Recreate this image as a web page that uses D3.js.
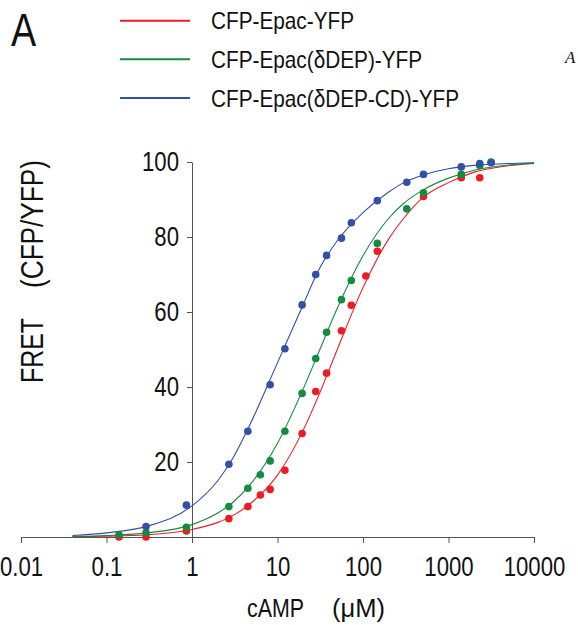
<!DOCTYPE html>
<html>
<head>
<meta charset="utf-8">
<script src="https://cdn.jsdelivr.net/npm/d3@7"></script>
<style>
  body { margin: 0; background: #fff; }
  svg { display: block; }
</style>
</head>
<body>
<svg id="chart" width="578" height="625"></svg>
<script>
// ---- data ----
const legendNames = ["CFP-Epac-YFP", "CFP-Epac(\u03B4DEP)-YFP", "CFP-Epac(\u03B4DEP-CD)-YFP"];
const colors = ["#ed1c24", "#138c40", "#3150a6"];

const xTicks = [0.01, 0.1, 1, 10, 100, 1000, 10000];
const xTickLabels = ["0.01", "0.1", "1", "10", "100", "1000", "10000"];
const yTicks = [20, 40, 60, 80, 100];

// measured points (cAMP uM, FRET)
const concRed = [0.14, 0.29, 0.86, 2.7, 4.5, 6.3, 8.2, 12.2, 19.4, 28, 37.5, 56, 73, 108, 147, 510, 1410, 2320];
const fretRed = [0, 0, 1.6, 4.9, 8.1, 11.2, 12.7, 17.8, 27.6, 38.8, 43.7, 55.0, 61.8, 69.6, 76.2, 90.8, 95.8, 95.8];

const concGreen = [0.14, 0.29, 0.86, 2.7, 4.5, 6.3, 8.2, 12.2, 19.4, 28, 37.5, 56, 73, 147, 325, 510, 1410, 2320, 3150];
const fretGreen = [0.6, 1.2, 2.6, 8.1, 13.0, 16.6, 20.3, 28.2, 38.3, 47.6, 54.6, 63.3, 68.4, 78.3, 87.5, 91.8, 96.7, 99.1, 100];

const concBlue = [0.29, 0.86, 2.7, 4.5, 8.2, 12.2, 19.4, 28, 37.5, 56, 73, 147, 325, 510, 1410, 2320, 3150];
const fretBlue = [2.8, 8.5, 19.4, 28.2, 40.6, 50.2, 61.9, 70, 75.1, 79.7, 83.8, 89.7, 94.6, 96.7, 98.7, 99.6, 99.8];

// fitted curves
const fitConc = [0.04, 0.1, 0.3, 1, 2, 3, 5, 10, 20, 30, 50, 100, 200, 300, 500, 1000, 2000, 5000, 10000];
const fitRed = [0.1, 0.2, 0.6, 2, 3.9, 5.7, 9.2, 16.5, 28.5, 37.5, 50, 66.5, 79.5, 85, 90.5, 94.5, 97.3, 99, 99.6];
const fitGreen = [0.15, 0.4, 1.1, 3.3, 6.4, 9.2, 14.5, 25, 39.5, 49, 61, 75, 85, 89, 92.5, 95.7, 97.8, 99.2, 99.7];
const fitBlue = [0.4, 1.1, 2.9, 8.3, 15, 21, 31, 46.5, 62, 71, 79, 86.5, 92, 94.5, 96.5, 98.2, 99.1, 99.6, 99.8];

const font = "'Liberation Sans', Arial, sans-serif";

// squeeze Arial-like glyphs to an Arial Narrow look
function narrow(sel, k = 0.82) {
  sel.each(function () {
    const w = this.getComputedTextLength();
    d3.select(this)
      .attr("textLength", w * k)
      .attr("lengthAdjust", "spacingAndGlyphs");
  });
}

const svg = d3.select("#chart");

const xScale = d3.scaleLog().domain([0.01, 10000]).range([21, 534]);
const yScale = d3.scaleLinear().domain([0, 100]).range([537, 162]);

const series = [
  { conc: concRed, fret: fretRed, fit: fitRed, color: colors[0] },
  { conc: concGreen, fret: fretGreen, fit: fitGreen, color: colors[1] },
  { conc: concBlue, fret: fretBlue, fit: fitBlue, color: colors[2] }
];

// axes
const xAxis = d3.axisBottom(xScale)
  .tickValues(xTicks)
  .tickFormat((d, i) => xTickLabels[i])
  .tickSize(6)
  .tickSizeOuter(0)
  .tickPadding(14);

const xAxisG = svg.append("g")
  .attr("transform", `translate(0,${yScale(0)})`)
  .call(xAxis);
xAxisG.selectAll("path, line").attr("stroke", "#555");
xAxisG.selectAll("text")
  .attr("font-family", font)
  .attr("font-size", 27)
  .attr("fill", "#111")
  .call(narrow);

const yAxis = d3.axisLeft(yScale)
  .tickValues(yTicks)
  .tickSize(5)
  .tickSizeOuter(0)
  .tickPadding(8);

const yAxisG = svg.append("g")
  .attr("transform", `translate(${xScale(1)},0)`)
  .call(yAxis);
yAxisG.selectAll("path, line").attr("stroke", "#555");
yAxisG.selectAll("text")
  .attr("font-family", font)
  .attr("font-size", 27)
  .attr("fill", "#111")
  .call(narrow);

// axis titles (widths as measured on the figure)
const xTitle = svg.append("text")
  .attr("y", 617)
  .attr("font-family", font)
  .attr("font-size", 26)
  .attr("fill", "#111")
  .attr("lengthAdjust", "spacingAndGlyphs");
xTitle.append("text");
svg.append("text")
  .attr("x", 247).attr("y", 617)
  .attr("font-family", font).attr("font-size", 26).attr("fill", "#111")
  .attr("textLength", 57).attr("lengthAdjust", "spacingAndGlyphs")
  .text("cAMP");
svg.append("text")
  .attr("x", 332).attr("y", 617)
  .attr("font-family", font).attr("font-size", 26).attr("fill", "#111")
  .attr("textLength", 53).attr("lengthAdjust", "spacingAndGlyphs")
  .text("(\u03BCM)");

const yTitleG = svg.append("g").attr("transform", "translate(43,383) rotate(-90)");
yTitleG.append("text")
  .attr("x", 0)
  .attr("font-family", font).attr("font-size", 31).attr("fill", "#111")
  .attr("textLength", 65).attr("lengthAdjust", "spacingAndGlyphs")
  .text("FRET");
yTitleG.append("text")
  .attr("x", 95)
  .attr("font-family", font).attr("font-size", 31).attr("fill", "#111")
  .attr("textLength", 128).attr("lengthAdjust", "spacingAndGlyphs")
  .text("(CFP/YFP)");

// fit curves
const lineGenerator = d3.line()
  .x((d) => xScale(d[0]))
  .y((d) => yScale(d[1]))
  .curve(d3.curveMonotoneX);

series.forEach((s) => {
  svg.append("path")
    .attr("d", lineGenerator(fitConc.map((c, i) => [c, s.fit[i]])))
    .attr("fill", "none")
    .attr("stroke", s.color)
    .attr("stroke-width", 1.1);
});

// data points
series.forEach((s) => {
  svg.append("g")
    .selectAll("circle")
    .data(s.conc.map((c, i) => [c, s.fret[i]]))
    .enter()
    .append("circle")
    .attr("cx", (d) => xScale(d[0]))
    .attr("cy", (d) => yScale(d[1]))
    .attr("r", 3.8)
    .attr("fill", s.color);
});

// legend
const legendY = d3.scalePoint().domain(legendNames).range([20.7, 98]);

const legend = svg.append("g");
legend.selectAll("line")
  .data(legendNames)
  .enter()
  .append("line")
  .attr("x1", 120)
  .attr("x2", 190)
  .attr("y1", (d) => legendY(d))
  .attr("y2", (d) => legendY(d))
  .attr("stroke", (d, i) => colors[i])
  .attr("stroke-width", 2);

legend.selectAll("text")
  .data(legendNames)
  .enter()
  .append("text")
  .attr("x", 211)
  .attr("y", (d) => legendY(d) + 8.5)
  .attr("font-family", font)
  .attr("font-size", 24)
  .attr("fill", "#111")
  .text((d) => d)
  .call(narrow, 0.865);

// panel labels
svg.append("text")
  .attr("x", 11)
  .attr("y", 46)
  .attr("font-family", font)
  .attr("font-size", 46)
  .attr("fill", "#111")
  .text("A")
  .call(narrow);

svg.append("text")
  .attr("x", 565)
  .attr("y", 63)
  .attr("font-family", "'Liberation Serif', serif")
  .attr("font-style", "italic")
  .attr("font-size", 17)
  .attr("fill", "#111")
  .text("A");
</script>
</body>
</html>
